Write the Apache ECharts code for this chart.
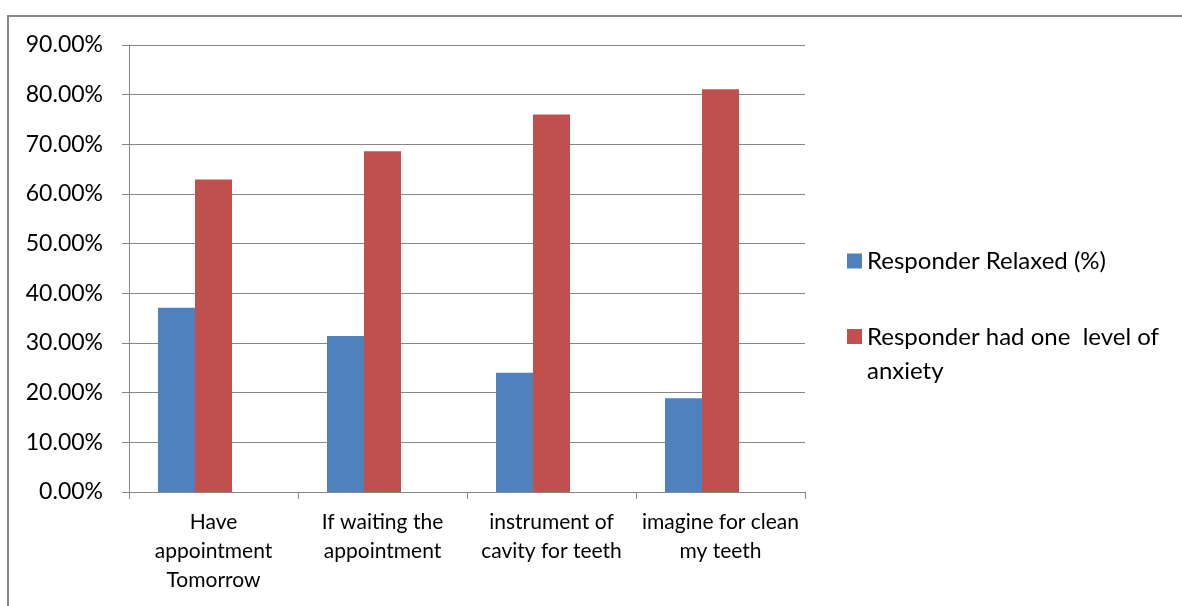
<!DOCTYPE html>
<html>
<head>
<meta charset="utf-8">
<script src="https://cdn.jsdelivr.net/npm/echarts@6/dist/echarts.min.js"></script>
<style>
  html, body { margin: 0; padding: 0; background: #ffffff; }
  #chart { width: 1182px; height: 606px; }
</style>
</head>
<body>
<div id="chart"></div>
<script>
const categories = [
  'Have\nappointment\nTomorrow',
  'If waiting the\nappointment',
  'instrument of\ncavity for teeth',
  'imagine for clean\nmy teeth'
];
const seriesNames = ['Responder Relaxed (%)', 'Responder had one  level of anxiety'];
const relaxed = [37.1, 31.4, 24.0, 18.9];
const anxiety = [62.9, 68.6, 76.0, 81.1];
const yTicks = { min: 0, max: 90, interval: 10 };

const FONT = 'Lato';
const chart = echarts.init(document.getElementById('chart'), null, { renderer: 'canvas' });
const gray = '#868686';

chart.setOption({
  animation: false,
  backgroundColor: '#ffffff',
  textStyle: { fontFamily: FONT, color: '#000' },
  graphic: [{
    type: 'rect',
    shape: { x: 8, y: 16, width: 1400, height: 800 },
    style: { fill: 'none', stroke: '#8a8a8a', lineWidth: 2 },
    silent: true
  }],
  grid: { left: 129, right: 377, top: 45, bottom: 114, containLabel: false },
  legend: [{
    orient: 'vertical',
    left: 847, top: 249, padding: 0,
    itemWidth: 15, itemHeight: 15,
    icon: 'rect',
    data: [seriesNames[0]],
    textStyle: { fontFamily: FONT, fontSize: 24, color: '#000' }
  }, {
    orient: 'vertical',
    left: 847, top: 320, padding: 0,
    itemWidth: 15, itemHeight: 68,
    icon: 'path://M0,0M0,9h15v15h-15zM0,68',
    data: [seriesNames[1]],
    formatter: name => name.replace(' anxiety', '\nanxiety'),
    textStyle: { fontFamily: FONT, fontSize: 24, lineHeight: 34, color: '#000' }
  }],
  xAxis: {
    type: 'category',
    data: categories,
    axisLine: { lineStyle: { color: gray, width: 1 } },
    axisTick: { show: true, length: 7, lineStyle: { color: gray } },
    axisLabel: { fontFamily: FONT, fontSize: 21, lineHeight: 29, color: '#000', margin: 16, interval: 0 }
  },
  yAxis: {
    type: 'value',
    min: yTicks.min, max: yTicks.max, interval: yTicks.interval,
    axisLine: { show: true, lineStyle: { color: gray, width: 1 } },
    axisTick: { show: true, length: 7, lineStyle: { color: gray } },
    splitLine: { show: true, lineStyle: { color: gray, width: 1 } },
    axisLabel: {
      fontFamily: FONT, fontSize: 23, color: '#000', margin: 26,
      formatter: v => v.toFixed(2) + '%'
    }
  },
  series: [{
    name: seriesNames[0], type: 'bar', data: relaxed,
    barWidth: 37, barGap: '0%',
    itemStyle: { color: '#4F81BD' }
  }, {
    name: seriesNames[1], type: 'bar', data: anxiety,
    barWidth: 37, barGap: '0%',
    itemStyle: { color: '#C0504D' }
  }, {
    name: 'placeholder', type: 'bar', data: [null, null, null, null],
    barWidth: 37, barGap: '0%',
    itemStyle: { color: 'transparent' }, silent: true
  }]
});
</script>
</body>
</html>
